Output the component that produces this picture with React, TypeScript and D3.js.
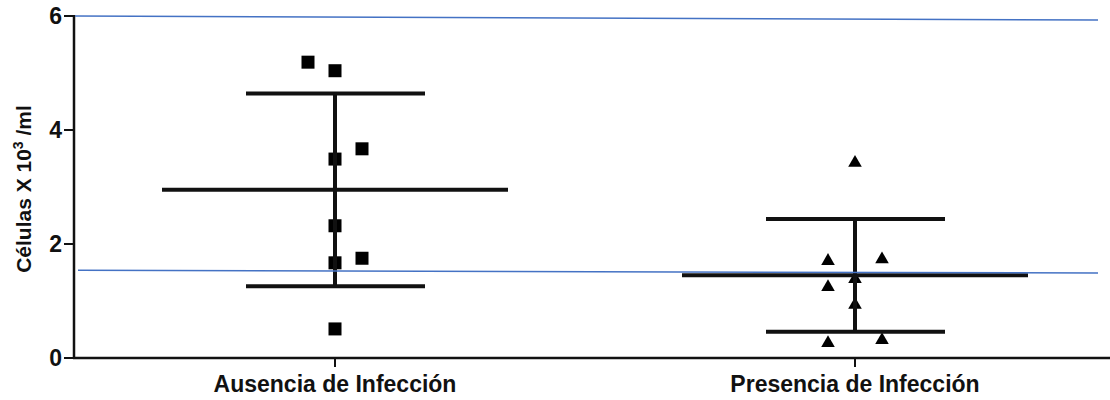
import React from "react";
import * as d3 from "d3";

const categories = ["Ausencia de Infección", "Presencia de Infección"];
const ausenciaValues = [5.19, 5.04, 3.67, 3.49, 2.32, 1.75, 1.67, 0.51];
const ausenciaSlots = [-1, 0, 1, 0, 0, 1, 0, 0];
const presenciaValues = [3.44, 1.75, 1.72, 1.4, 1.26, 0.95, 0.33, 0.28];
const presenciaSlots = [0, 1, -1, 0, -1, 0, 1, -1];
const means = [2.95, 1.45];
const sds = [1.69, 0.99];
const yTicks = [0, 2, 4, 6];
const refLineStart = [6.0, 1.54];
const refLineEnd = [5.93, 1.49];

const W = 1110;
const H = 400;

export default function App() {
  const y = d3.scaleLinear().domain([0, 6]).range([358, 16]);
  const x = d3.scalePoint<string>().domain(categories).range([75, 1115]).padding(0.5);
  const slotStep = 27;
  const font = "'Liberation Sans', Arial, sans-serif";
  const sq = 13;
  const tri = d3.symbol().type(d3.symbolTriangle).size(80)();

  const groups = [
    { cat: categories[0], values: ausenciaValues, slots: ausenciaSlots, shape: "square" },
    { cat: categories[1], values: presenciaValues, slots: presenciaSlots, shape: "triangle" },
  ];

  return (
    <svg width={W} height={H} style={{ position: "absolute", left: 0, top: 0, display: "block" }}>
      <rect x={0} y={0} width={W} height={H} fill="#fff" />
      {/* axes */}
      <line x1={74} x2={74} y1={y(6) - 1} y2={y(0)} stroke="#111" strokeWidth={2.5} />
      <line x1={73} x2={W} y1={y(0)} y2={y(0)} stroke="#111" strokeWidth={2.5} />
      {yTicks.map((t) => (
        <g key={t}>
          <line x1={64} x2={74} y1={y(t)} y2={y(t)} stroke="#111" strokeWidth={2} />
          <text x={62} y={y(t)} dy="0.36em" textAnchor="end" fontFamily={font} fontWeight="bold" fontSize={23} fill="#111">
            {t}
          </text>
        </g>
      ))}
      {categories.map((c) => (
        <g key={c}>
          <line x1={x(c)} x2={x(c)} y1={y(0)} y2={y(0) + 9} stroke="#111" strokeWidth={2} />
          <text x={x(c)} y={392} textAnchor="middle" fontFamily={font} fontWeight="bold" fontSize={23} fill="#111">
            {c}
          </text>
        </g>
      ))}
      <text
        transform={`translate(31, ${189}) rotate(-90)`}
        textAnchor="middle"
        fontFamily={font}
        fontWeight="bold"
        fontSize={21}
        fill="#111"
      >
        Células X 10<tspan dy={-8} fontSize={14}>3</tspan>
        <tspan dy={8}> /ml</tspan>
      </text>
      {/* points */}
      {groups.map((g) =>
        g.values.map((v, i) => {
          const cx = (x(g.cat) as number) + g.slots[i] * slotStep;
          const cy = y(v);
          return g.shape === "square" ? (
            <rect key={g.cat + i} x={cx - sq / 2} y={cy - sq / 2} width={sq} height={sq} fill="#000" />
          ) : (
            <path key={g.cat + i} d={tri as string} transform={`translate(${cx},${cy + 1})`} fill="#000" />
          );
        })
      )}
      {/* mean and SD */}
      {categories.map((c, i) => {
        const cx = x(c) as number;
        return (
          <g key={"err" + c} stroke="#111" strokeWidth={4}>
            <line x1={cx} x2={cx} y1={y(means[i] + sds[i])} y2={y(means[i] - sds[i])} />
            <line x1={cx - 89} x2={cx + 90} y1={y(means[i] + sds[i])} y2={y(means[i] + sds[i])} />
            <line x1={cx - 89} x2={cx + 90} y1={y(means[i] - sds[i])} y2={y(means[i] - sds[i])} />
            <line x1={cx - 173} x2={cx + 173} y1={y(means[i])} y2={y(means[i])} />
          </g>
        );
      })}
      {/* blue reference lines */}
      {refLineStart.map((v, i) => (
        <line key={"ref" + i} x1={i === 0 ? 75 : 78} x2={1098} y1={y(v)} y2={y(refLineEnd[i])} stroke="#4472C4" strokeWidth={1.5} />
      ))}
    </svg>
  );
}
